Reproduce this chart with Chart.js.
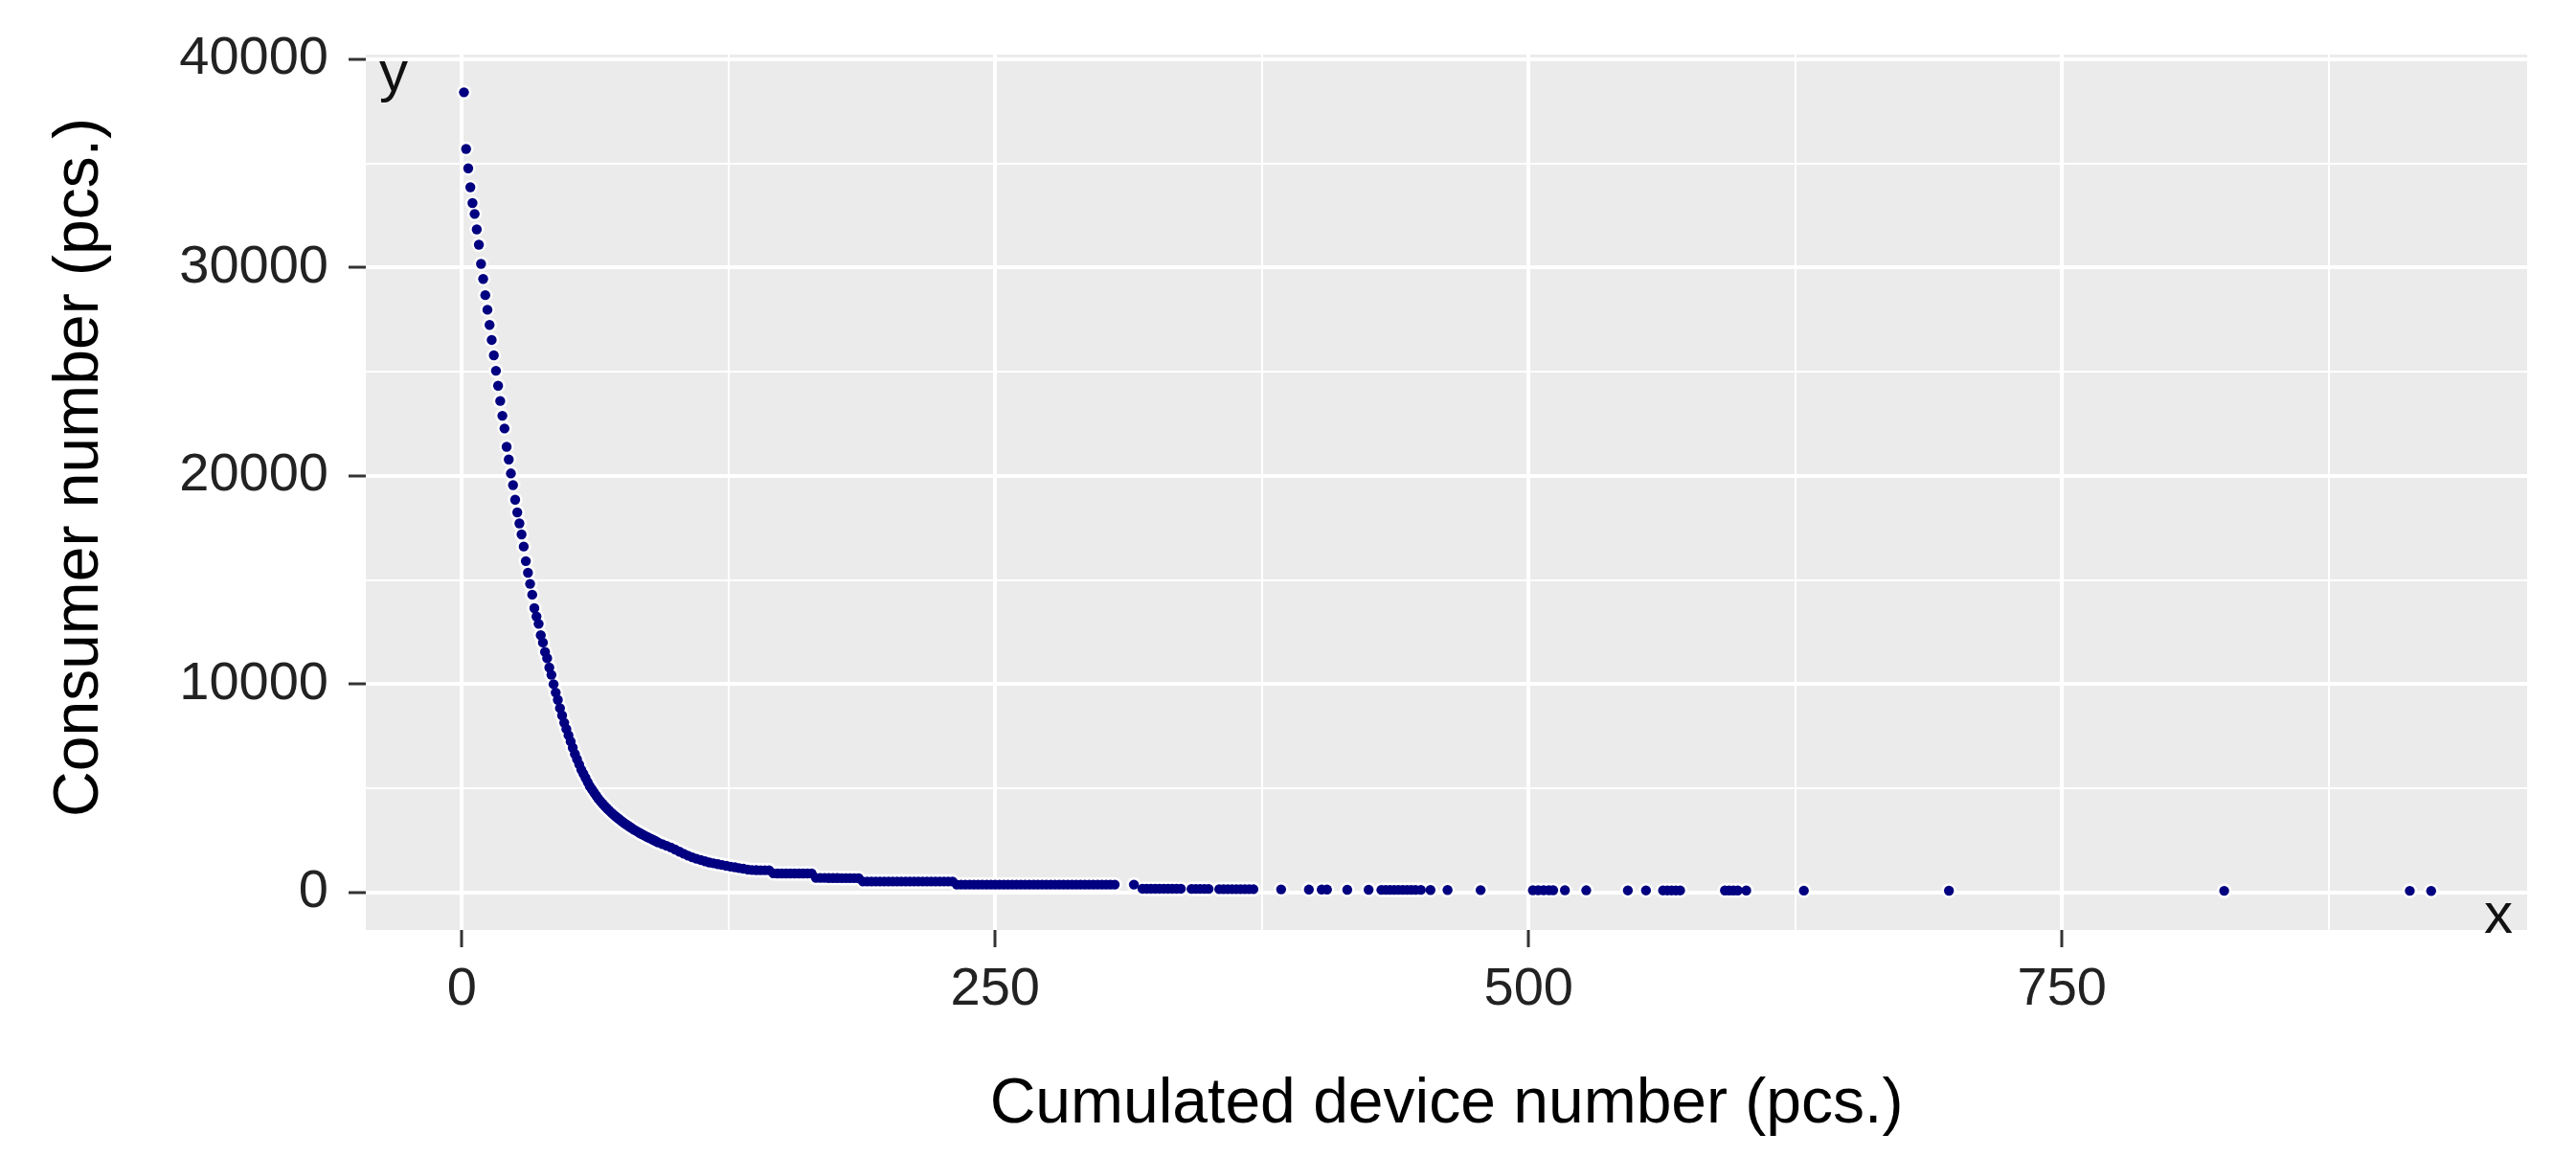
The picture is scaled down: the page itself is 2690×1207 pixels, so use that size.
<!DOCTYPE html>
<html><head><meta charset="utf-8">
<style>html,body{margin:0;padding:0;background:#fff;} canvas{display:block;}</style>
<script src="https://cdn.jsdelivr.net/npm/chart.js@4.4.1/dist/chart.umd.min.js"></script>
</head><body>
<canvas id="c" width="2690" height="1207" style="width:2690px;height:1207px"></canvas>
<script>
// ---- texts / ticks ----
const xTitle = 'Cumulated device number (pcs.)';
const yTitle = 'Consumer number (pcs.)';
const cornerY = 'y';
const cornerX = 'x';
const xMajorTicks = [0, 250, 500, 750];
const xMinorTicks = [125, 375, 625, 875];
const yMajorTicks = [0, 10000, 20000, 30000, 40000];
const yMinorTicks = [5000, 15000, 25000, 35000];
const xRange = [-45, 968];
const yRange = [-1800, 40230];

// ---- data ----
const headX = [1,2,3,4,5,6,7,8,9,10,11,12,13,14,15,16,17,18,19,20,21,22,23,24,25,26,27,28,29,30,31,32,33];
const headY = [38420,35700,34770,33860,33100,32580,31840,31100,30180,29460,28680,27980,27250,26530,25790,25050,24330,23600,22890,22280,21400,20790,20120,19560,18860,18250,17720,17190,16610,15910,15350,14820,14300];

const bendX = [34,35,36,37,38,39,40,41,42,43,
               44,45,46,47,48,49,50,51,52,53,
               54,55,56,57,58,59,60,61,62,63,
               64,65,66,67,68,69,70,71,72,73,
               74,75,76,77,78,79,80,81,82,83,
               84,85,86,87,88,89,90,91];
const bendY = [13650,13250,12900,12350,12000,11550,11250,10800,10450,10000,
               9600,9250,8850,8500,8150,7850,7550,7250,6950,6650,
               6400,6150,5900,5700,5500,5300,5100,4950,4800,4650,
               4500,4380,4260,4150,4040,3940,3840,3750,3660,3580,
               3500,3420,3340,3270,3200,3130,3060,3000,2940,2880,
               2820,2770,2710,2660,2610,2560,2510,2460];

const flatX = [92,94,96,98,100,102,104,106,108,110,
               112,114,116,118,120,122,124,126,128,130,
               132,134,136,138,140,142,144,146,148,150,
               152,154,156,158,160,162,164,166,168,170,
               172,174,176,178,180,182,184,186,188,190,
               192,194,196,198,200,202,204,206,208,210,
               212,214,216,218,220,222,224,226,228,230,
               232,234,236,238,240,242,244,246,248,250,
               252,254,256,258,260,262,264,266,268,270,
               272,274,276,278,280,282,284,286,288,290,
               292,294,296,298,300,302,304,306];
const flatY = [2400,2320,2240,2160,2060,1960,1860,1770,1690,1620,
               1560,1500,1440,1400,1360,1320,1280,1240,1210,1170,
               1140,1100,1080,1075,1070,1070,1070,920,915,915,
               915,915,910,910,910,910,910,700,700,700,
               695,695,695,690,690,690,690,685,530,530,
               530,530,530,530,530,530,530,530,530,530,
               530,530,530,530,530,530,530,530,530,530,
               380,380,380,380,380,380,380,380,380,380,
               380,380,380,380,380,380,380,380,380,380,
               380,380,380,380,380,380,380,380,380,380,
               380,380,380,380,380,380,380,380];

const tailX = [315,
               319,321,323,325,327,329,331,333,335,337,
               342,344,346,348,350,
               355,357,359,361,363,365,367,369,371,
               384,397,403,405.5,415,425,
               431,433,435,437,439,441,443,445,447,449.5,
               454,462,477.5,
               502,504.5,507,509.5,511.5,
               517,527,546.5,555,
               563,565,567,569,571,
               592,594,596,598,
               602,629,697,826,913,923];
const tailY = [380,
               180,180,180,180,180,180,180,180,180,180,
               170,170,170,170,170,
               160,160,160,160,160,160,160,160,160,
               150,140,140,140,130,130,
               125,125,125,125,125,125,125,125,125,125,
               120,120,115,
               110,110,110,110,110,
               110,105,100,100,
               100,100,100,100,100,
               95,95,95,95,
               95,90,85,80,80,75];

const allX = [].concat(headX, bendX, flatX, tailX);
const allY = [].concat(headY, bendY, flatY, tailY);
const points = allX.map((x, i) => ({x: x, y: allY[i]}));

const FONT = '"Liberation Sans", Arial, sans-serif';
const isXMajor = v => xMajorTicks.includes(v);
const isYMajor = v => yMajorTicks.includes(v);

const panelBg = {
  id: 'panelBg',
  beforeDraw(chart) {
    const {ctx, chartArea: a} = chart;
    ctx.save();
    ctx.fillStyle = '#EBEBEB';
    ctx.fillRect(a.left, a.top, a.right - a.left, a.bottom - a.top);
    ctx.restore();
  }
};
const textLayer = {
  id: 'textLayer',
  afterDraw(chart) {
    const {ctx, chartArea: a} = chart;
    ctx.save();
    ctx.font = '60px ' + FONT;
    ctx.fillStyle = '#111';
    ctx.textBaseline = 'alphabetic';
    ctx.textAlign = 'left';
    ctx.fillText(cornerY, a.left + 14, a.top + 38);
    ctx.textAlign = 'right';
    ctx.fillText(cornerX, a.right - 15, a.bottom + 3);
    // y axis title, rotated
    ctx.translate(84, (a.top + a.bottom) / 2 - 26);
    ctx.rotate(-Math.PI / 2);
    ctx.font = '66px ' + FONT;
    ctx.fillStyle = '#000';
    ctx.textAlign = 'center';
    ctx.textBaseline = 'middle';
    ctx.fillText(yTitle, 0, 0);
    ctx.restore();
  }
};

new Chart(document.getElementById('c'), {
  type: 'scatter',
  data: {
    datasets: [
      { data: points, pointRadius: 5.2, pointBorderWidth: 0, pointBackgroundColor: '#000080', pointBorderColor: '#000080', showLine: false },
      { data: points, pointRadius: 7.8, pointBorderWidth: 0, pointBackgroundColor: 'rgba(255,255,255,0.8)', pointBorderColor: 'rgba(255,255,255,0)', showLine: false }
    ]
  },
  options: {
    responsive: false,
    devicePixelRatio: 1,
    animation: false,
    events: [],
    layout: { padding: { top: 57, right: 51, left: 0, bottom: 0 } },
    plugins: { legend: { display: false }, tooltip: { enabled: false } },
    scales: {
      x: {
        type: 'linear', min: xRange[0], max: xRange[1],
        afterBuildTicks: s => { s.ticks = xMajorTicks.concat(xMinorTicks).sort((a, b) => a - b).map(v => ({value: v})); },
        afterFit: s => { s.height = 236; },
        border: { display: false },
        grid: {
          color: '#FFFFFF',
          lineWidth: c => isXMajor(c.tick.value) ? 4 : 2,
          drawTicks: true, tickLength: 18,
          tickWidth: 3,
          tickColor: c => isXMajor(c.tick.value) ? '#333333' : 'rgba(0,0,0,0)'
        },
        ticks: {
          autoSkip: false, maxRotation: 0, minRotation: 0, padding: 11,
          color: '#222', font: { family: FONT, size: 56 },
          callback: v => isXMajor(v) ? String(v) : ''
        },
        title: { display: true, text: xTitle, color: '#000', font: { family: FONT, size: 66 }, padding: { top: 0, bottom: 14 } }
      },
      y: {
        type: 'linear', min: yRange[0], max: yRange[1],
        afterBuildTicks: s => { s.ticks = yMajorTicks.concat(yMinorTicks).sort((a, b) => a - b).map(v => ({value: v})); },
        afterFit: s => { s.width = 382; },
        border: { display: false },
        grid: {
          color: '#FFFFFF',
          lineWidth: c => isYMajor(c.tick.value) ? 4 : 2,
          drawTicks: true, tickLength: 18,
          tickWidth: 3,
          tickColor: c => isYMajor(c.tick.value) ? '#333333' : 'rgba(0,0,0,0)'
        },
        ticks: {
          autoSkip: false, padding: 21,
          color: '#222', font: { family: FONT, size: 56 },
          callback: v => isYMajor(v) ? String(v) : ''
        },
        title: { display: false }
      }
    }
  },
  plugins: [panelBg, textLayer]
});
</script>
</body></html>
